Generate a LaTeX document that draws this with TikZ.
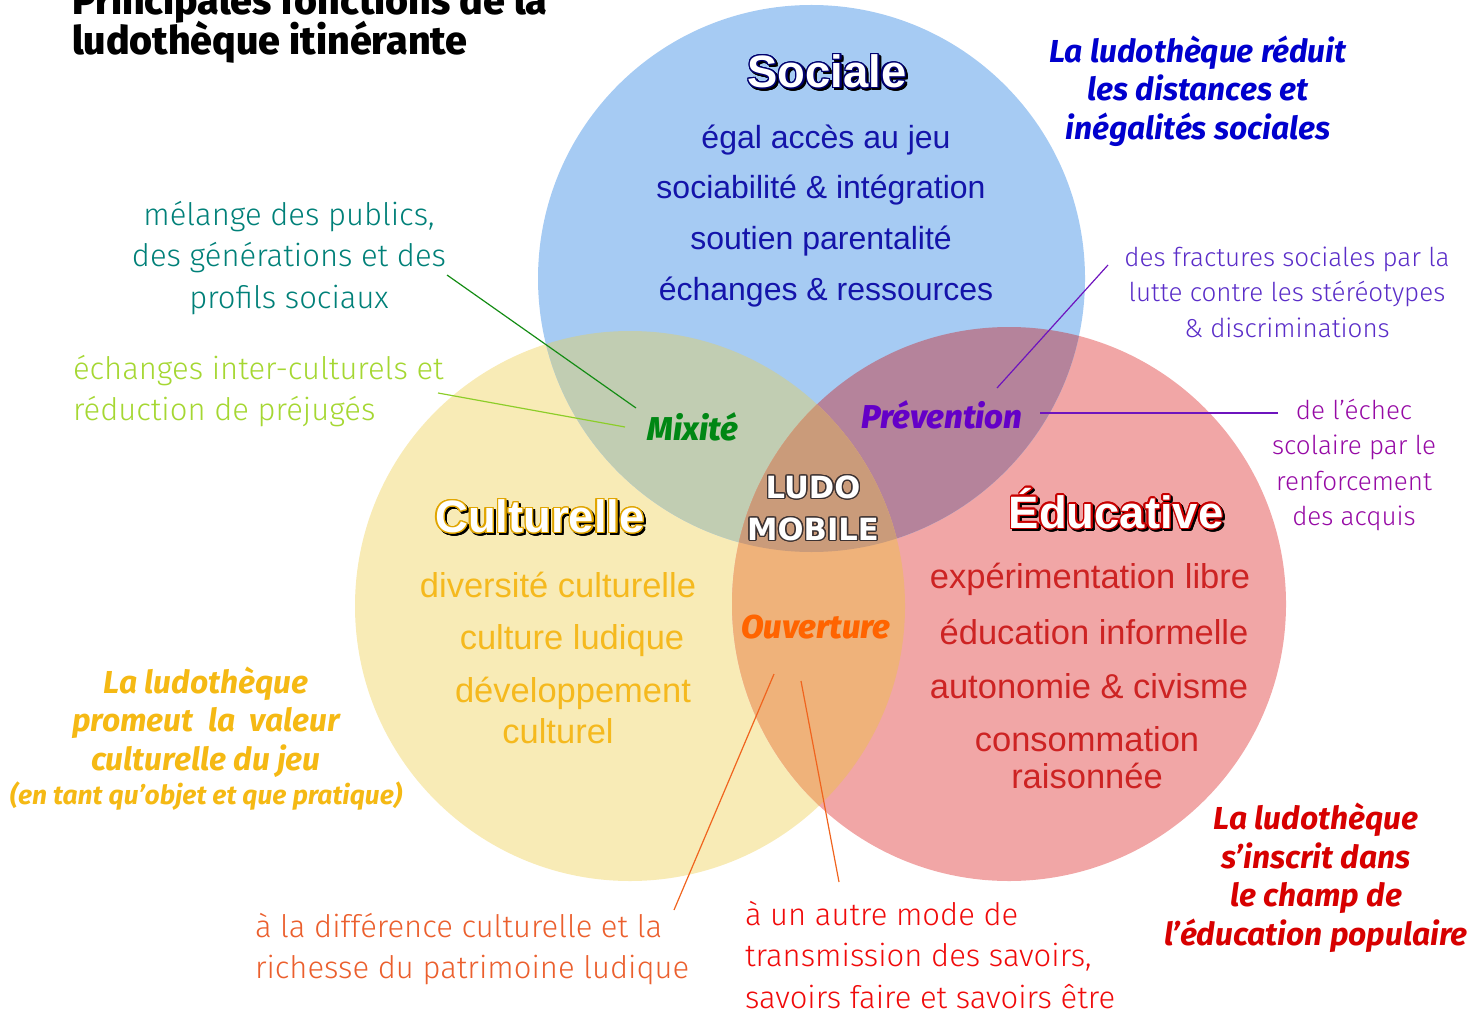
\documentclass[tikz,border=0pt]{standalone}
\usepackage{fontspec}
\usepackage{contour}
\setmainfont{Liberation Sans}
\newfontfamily\fira{Fira Sans}
\newfontfamily\firalight{Fira Sans Light}
\newfontfamily\firaxb{Fira Sans ExtraBold}
\newfontfamily\firaxbi{Fira Sans ExtraBold Italic}
\newfontfamily\djv{DejaVu Sans}
\contourlength{0.7pt}
\definecolor{cBlue}{HTML}{A6CBF3}
\definecolor{cYel}{HTML}{F8EBB6}
\definecolor{cRed}{HTML}{F1A6A6}
\definecolor{cBY}{HTML}{C1CDB2}
\definecolor{cBR}{HTML}{B5839B}
\definecolor{cYR}{HTML}{EFB27A}
\definecolor{cAll}{HTML}{CA9B7A}
\definecolor{socText}{RGB}{20,20,170}
\definecolor{socLine}{RGB}{0,0,110}
\definecolor{culText}{RGB}{245,185,30}
\definecolor{culLine}{RGB}{225,165,0}
\definecolor{eduText}{RGB}{205,35,35}
\definecolor{eduLine}{RGB}{200,0,0}
\definecolor{mixGreen}{RGB}{0,135,20}
\definecolor{prevPurple}{RGB}{100,0,200}
\definecolor{ouvOrange}{RGB}{255,100,0}
\definecolor{blueCall}{RGB}{0,0,205}
\definecolor{redCall}{RGB}{215,0,0}
\definecolor{goldCall}{RGB}{245,185,20}
\definecolor{teal}{RGB}{0,128,120}
\definecolor{lgreen}{RGB}{165,215,50}
\definecolor{indigoC}{RGB}{90,45,200}
\definecolor{magC}{RGB}{150,10,165}
\definecolor{oranC}{RGB}{235,95,45}
\definecolor{redC}{RGB}{240,10,10}
\definecolor{lineGreen}{RGB}{20,140,20}
\definecolor{lineLGreen}{RGB}{140,205,40}
\definecolor{linePurple}{RGB}{110,20,190}
\definecolor{lineOrange}{RGB}{240,100,30}
\definecolor{ludoLine}{RGB}{60,50,50}
\tikzset{
  every node/.style={inner sep=0pt, outer sep=0pt},
  soc/.style={font=\fontsize{16}{19}\selectfont, text=socText},
  cul/.style={font=\fontsize{17.25}{19.5}\selectfont, text=culText, align=center},
  edu/.style={font=\fontsize{17.25}{18.5}\selectfont, text=eduText, align=center},
  bigtitle/.style={font=\bfseries\fontsize{22.7}{24}\selectfont},
  tag/.style={font=\firaxbi\fontsize{16.5}{18}\selectfont},
  callb/.style={font=\fira\bfseries\itshape\fontsize{15.9}{19.25}\selectfont, align=center},
  lightbig/.style={font=\firalight\fontsize{15.5}{20.6}\selectfont},
  lightsmall/.style={font=\firalight\fontsize{13}{17.7}\selectfont, align=center},
  conn/.style={line width=0.6pt},
  maintitle/.style={font=\firaxb\fontsize{19.7}{19.7}\selectfont, anchor=base west},
}
\begin{document}
\begin{tikzpicture}[x=0.5pt,y=-0.5pt]
\useasboundingbox (0,0) rectangle (1475,1010);
% circles
\coordinate (cB) at (811.5,278.5);
\coordinate (cY) at (630,606);
\coordinate (cR) at (1009,604);
\def\rB{273.5}\def\rY{275}\def\rR{277}
\fill[cYel] (cY) circle[radius=\rY];
\fill[cRed] (cR) circle[radius=\rR];
\fill[cBlue] (cB) circle[radius=\rB];
\begin{scope}\clip (cB) circle[radius=\rB]; \fill[cBY] (cY) circle[radius=\rY]; \end{scope}
\begin{scope}\clip (cB) circle[radius=\rB]; \fill[cBR] (cR) circle[radius=\rR]; \end{scope}
\begin{scope}\clip (cY) circle[radius=\rY]; \fill[cYR] (cR) circle[radius=\rR]; \end{scope}
\begin{scope}\clip (cB) circle[radius=\rB]; \clip (cY) circle[radius=\rY]; \fill[cAll] (cR) circle[radius=\rR]; \end{scope}

% main title
\node[maintitle] (title1) at (72,15) {Principales fonctions de la};
\node[maintitle] (title2) at (72,55) {ludothèque itinérante};

% circle titles
\node[bigtitle, text=black] (socS) at (829,74) {\contour{black}{Sociale}};
\node[bigtitle, text=white] (socT) at (827,72) {\contour{socLine}{Sociale}};
\node[bigtitle, text=black] (culS) at (542,519) {\contour{black}{Culturelle}};
\node[bigtitle, text=white] (culT) at (540,517) {\contour{culLine}{Culturelle}};
\node[bigtitle, text=black] (eduS) at (1118,511) {\contour{black}{Éducative}};
\node[bigtitle, text=white] (eduT) at (1116,509) {\contour{eduLine}{Éducative}};

% sociale items
\node[soc] (s1) at (826,140) {égal accès au jeu};
\node[soc] (s2) at (821,190) {sociabilité \& intégration};
\node[soc] (s3) at (821,241) {soutien parentalité};
\node[soc] (s4) at (826,292) {échanges \& ressources};

% culturelle items
\node[cul] (c1) at (558,585) {diversité culturelle};
\node[cul] (c2) at (572,641) {culture ludique};
\node[cul] (c3a) at (573,693) {développement};
\node[cul] (c3b) at (558,731) {culturel};

% educative items
\node[edu] (e1) at (1090,579) {expérimentation libre};
\node[edu] (e2) at (1094,632) {éducation informelle};
\node[edu] (e3) at (1089,686) {autonomie \& civisme};
\node[edu] (e4) at (1087,758) {consommation\\raisonnée};

% centre
\node[font=\djv\bfseries\fontsize{15.3}{21}\selectfont, text=white, align=center] (ludo) at (813,509) {\contour{ludoLine}{LUDO}\\\contour{ludoLine}{MOBILE}};

% intersection tags
\node[tag, text=mixGreen] (mix) at (693,427) {Mixité};
\node[tag, text=prevPurple] (prev) at (942,415) {Prévention};
\node[tag, text=ouvOrange] (ouv) at (816,627) {Ouverture};

% callouts
\node[callb, text=blueCall] (cb) at (1198,91) {La ludothèque réduit\\les distances et\\inégalités sociales};
\node[callb, text=redCall] (cr) at (1316,878) {La ludothèque\\s’inscrit dans\\le champ de\\l’éducation populaire};
\node[callb, text=goldCall] (cg) at (206,722) {La ludothèque\\promeut\ \ la\ \ valeur\\culturelle du jeu};
\node[font=\fira\bfseries\itshape\fontsize{13.2}{14}\selectfont, text=goldCall] (cg2) at (206,796) {(en tant qu’objet et que pratique)};

\node[lightbig, text=teal, align=center] (mel) at (289,258) {mélange des publics,\\des générations et des\\profils sociaux};
\node[lightbig, text=lgreen, align=left, anchor=west] (ech) at (73,391) {échanges inter-culturels et\\réduction de préjugés};
\node[lightsmall, text=indigoC] (frac) at (1287,292) {des fractures sociales par la\\lutte contre les stéréotypes\\\& discriminations};
\node[lightsmall, text=magC] (echec) at (1354,465) {de l’échec\\scolaire par le\\renforcement\\des acquis};
\node[lightbig, text=oranC, align=left, anchor=west] (diff) at (255,949) {à la différence culturelle et la\\richesse du patrimoine ludique};
\node[lightbig, text=redC, align=left, anchor=west] (autre) at (745,955) {à un autre mode de\\transmission des savoirs,\\savoirs faire et savoirs être};

% connectors
\coordinate (m1) at (447,275); \coordinate (m1e) at (636,408);
\coordinate (m2) at (438,393); \coordinate (m2e) at (625,427);
\coordinate (p1) at (1108,265); \coordinate (p1e) at (997,388);
\coordinate (p2) at (1278,413); \coordinate (p2e) at (1040,413);
\coordinate (o1) at (674,910); \coordinate (o1e) at (774,674);
\coordinate (o2) at (839,882); \coordinate (o2e) at (801,681);
\draw[conn, lineGreen] (m1) -- (m1e);
\draw[conn, lineLGreen] (m2) -- (m2e);
\draw[conn, linePurple] (p1) -- (p1e);
\draw[conn, linePurple] (p2) -- (p2e);
\draw[conn, lineOrange] (o1) -- (o1e);
\draw[conn, lineOrange] (o2) -- (o2e);
\end{tikzpicture}
\end{document}
